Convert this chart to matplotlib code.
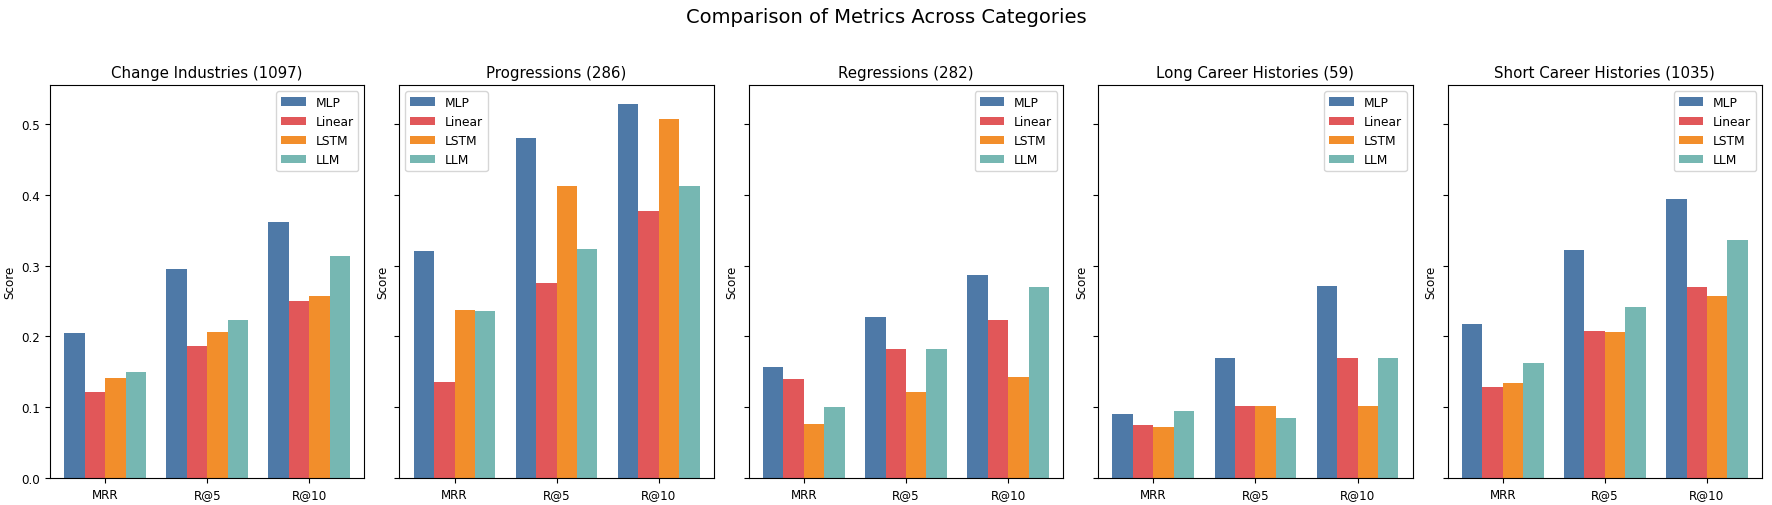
import matplotlib
matplotlib.use("Agg")
import matplotlib.pyplot as plt
import numpy as np

metrics = ["MRR", "R@5", "R@10"]
models = ["MLP", "Linear", "LSTM", "LLM"]
colors = ["#4e79a7", "#e15759", "#f28e2b", "#76b7b2"]
categories = ["Change Industries (1097)", "Progressions (286)", "Regressions (282)",
              "Long Career Histories (59)", "Short Career Histories (1035)"]

# values[category][model] -> [MRR, R@5, R@10]
change_industries = {"MLP": [0.205, 0.296, 0.362], "Linear": [0.121, 0.187, 0.250],
                     "LSTM": [0.142, 0.206, 0.257], "LLM": [0.150, 0.223, 0.314]}
progressions = {"MLP": [0.321, 0.480, 0.529], "Linear": [0.136, 0.276, 0.378],
                "LSTM": [0.237, 0.413, 0.508], "LLM": [0.236, 0.323, 0.413]}
regressions = {"MLP": [0.157, 0.227, 0.287], "Linear": [0.140, 0.182, 0.223],
               "LSTM": [0.076, 0.122, 0.143], "LLM": [0.101, 0.182, 0.270]}
long_careers = {"MLP": [0.091, 0.170, 0.271], "Linear": [0.075, 0.102, 0.170],
                "LSTM": [0.072, 0.102, 0.102], "LLM": [0.095, 0.085, 0.170]}
short_careers = {"MLP": [0.218, 0.322, 0.395], "Linear": [0.129, 0.208, 0.270],
                 "LSTM": [0.134, 0.206, 0.257], "LLM": [0.162, 0.241, 0.336]}
data = [change_industries, progressions, regressions, long_careers, short_careers]

fig, axes = plt.subplots(1, 5, figsize=(17.72, 5.06), dpi=100, sharey=True)
fig.subplots_adjust(left=0.0282, right=0.9944, top=0.830, bottom=0.0534, wspace=0.111)

x = np.arange(len(metrics))
width = 0.2
for ax, cat, vals in zip(axes, categories, data):
    for i, (m, c) in enumerate(zip(models, colors)):
        ax.bar(x + (i - 1.5) * width, vals[m], width, label=m, color=c, linewidth=0)
    ax.set_title(cat, fontsize=10.8)
    ax.set_xticks(x)
    ax.set_xticklabels(metrics, fontsize=8.6)
    ax.set_ylabel("Score", fontsize=8.6)
    ax.tick_params(axis="y", labelsize=8.6)
    ax.legend(loc="best", fontsize=8.8)

fig.suptitle("Comparison of Metrics Across Categories", fontsize=14, y=0.985)
fig.savefig("out.png", dpi=100)
